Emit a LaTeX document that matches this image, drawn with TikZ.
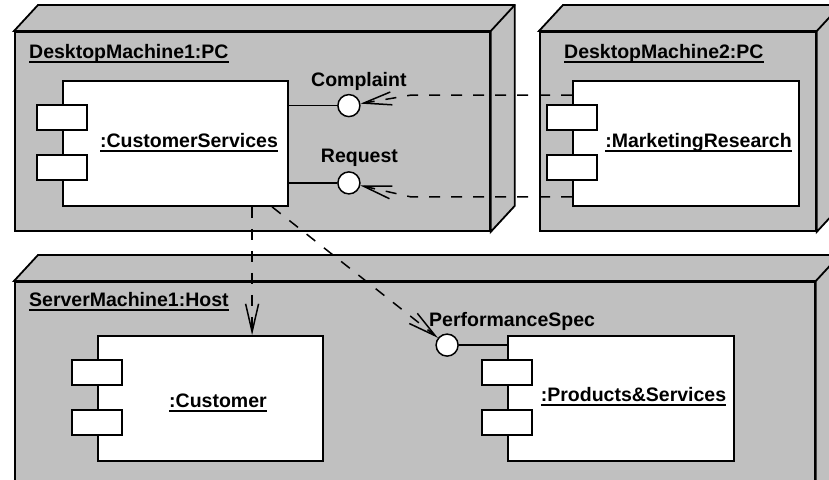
\documentclass[tikz,border=0pt]{standalone}
\usepackage{fontspec}
\setmainfont{Liberation Sans}
\usetikzlibrary{arrows.meta,calc}
\definecolor{nodegray}{RGB}{192,192,192}
% underline at a fixed distance below the baseline
\newsavebox\ulbox
\newcommand\ulabel[1]{\sbox\ulbox{#1}\rlap{\rule[-4.8pt]{\wd\ulbox}{1.5pt}}\usebox\ulbox}
% top and right faces of a 3D deployment node
\newcommand\devicedepth[1]{%
  \filldraw[fill=nodegray, line width=1.8pt, line join=miter]
    (#1.north west) -- ++(24,-26) -| ($(#1.south east)+(24,-26)$)
    -- (#1.south east) -- (#1.north east) -- cycle;
  \draw[line width=1.8pt] (#1.north east) -- ++(24,-26);}
\begin{document}
\begin{tikzpicture}[x=1pt,y=-1pt,
  txt/.style={font=\fontsize{19.5}{23}\selectfont\bfseries, inner sep=0pt},
  device/.style={draw, fill=nodegray, line width=1.8pt, anchor=north west, inner sep=0pt},
  comp/.style={draw, fill=white, line width=1.8pt, minimum height=125pt, inner sep=0pt},
  port/.style={draw, fill=white, line width=1.5pt, minimum width=50pt, minimum height=25pt, inner sep=0pt},
  iface/.style={circle, draw, fill=white, line width=1.5pt, minimum size=22pt, inner sep=0pt},
  wire/.style={line width=1.5pt},
  dep/.style={line width=1.5pt, dash pattern=on 11pt off 11pt,
    -{Straight Barb[length=28pt,width=13pt]}}]
\clip (0,0) rectangle (829,479);
\fill[white] (0,0) rectangle (829,479);

% deployment nodes
\node[device, minimum width=475pt, minimum height=199pt] (dm1) at (14,31) {};
\devicedepth{dm1}
\node[device, minimum width=276pt, minimum height=199pt] (dm2) at (539,31) {};
\devicedepth{dm2}
\node[device, minimum width=800pt, minimum height=240pt] (sm1) at (14,281) {};
\devicedepth{sm1}

\node[txt, anchor=base west] (dm1lbl) at (29,58) {\ulabel{DesktopMachine1:PC}};
\node[txt, anchor=base west] (dm2lbl) at (564,58) {\ulabel{DesktopMachine2:PC}};
\node[txt, anchor=base west] (sm1lbl) at (29,306) {\ulabel{ServerMachine1:Host}};

% components
\node[comp, minimum width=225pt] (cs) at (175.5,143.5) {};
\node[comp, minimum width=226pt] (mr) at (686,143.5) {};
\node[comp, minimum width=225pt] (cu) at (210.5,398.5) {};
\node[comp, minimum width=226pt] (ps) at (621,398.5) {};

\foreach \c in {cs,mr,cu,ps}{
  \node[port] (\c p1) at ($(\c.north west)+(0,37.5)$) {};
  \node[port] (\c p2) at ($(\c.north west)+(0,87.5)$) {};
}

\node[txt, anchor=base] (cslbl) at ($(cs.center)+(13.5,3.5)$) {\ulabel{:CustomerServices}};
\node[txt, anchor=base] (mrlbl) at ($(mr.center)+(12.5,3.5)$) {\ulabel{:MarketingResearch}};
\node[txt, anchor=base] (culbl) at ($(cu.center)+(7.5,8.5)$) {\ulabel{:Customer}};
\node[txt, anchor=base] (pslbl) at ($(ps.center)+(12.5,2.5)$) {\ulabel{:Products\&Services}};

% provided interfaces
\node[iface] (cmp) at ($(cs.north east)+(60,25.5)$) {};
\node[iface] (req) at ($(cs.south east)+(60,-24)$) {};
\node[iface] (psi) at ($(ps.north west)+(-60,10)$) {};
\draw[wire] (cmp -| cs.east) -- (cmp);
\draw[wire] (req -| cs.east) -- (req);
\draw[wire] (psi -| ps.west) -- (psi);

\node[txt, anchor=base] (cmplbl) at ($(cmp.center)+(10,-19.5)$) {Complaint};
\node[txt, anchor=base] (reqlbl) at ($(req.center)+(10.5,-20)$) {Request};
\node[txt, anchor=base] (psilbl) at ($(psi.center)+(65,-19)$) {PerformanceSpec};

% dependencies
\coordinate (m1) at ($(mr.north west)+(0,15)$);
\coordinate (b1) at ($(cmp.center |- m1)+(62,0)$);
\coordinate (m2) at ($(mr.south west)+(0,-10)$);
\coordinate (b2) at ($(req.center |- m2)+(62,0)$);
\draw[dep] (m1) -- (b1) -- (cmp);
\draw[dep] (m2) -- (b2) -- (req);

\coordinate (d1) at ($(cs.south west)+(190,0)$);
\coordinate (d2) at ($(cs.south west)+(210,0)$);
\draw[dep] (d1) -- (d1 |- cu.north);
\draw[dep] (d2) -- (psi);
\end{tikzpicture}
\end{document}
